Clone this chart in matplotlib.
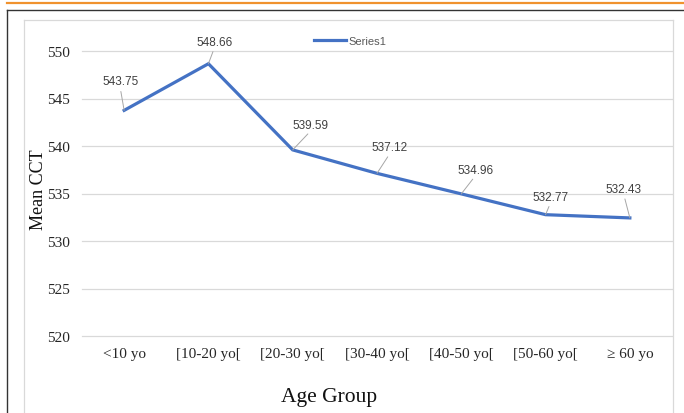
import matplotlib
matplotlib.use("Agg")
import matplotlib.pyplot as plt
from matplotlib.lines import Line2D

categories = ["<10 yo", "[10-20 yo[", "[20-30 yo[", "[30-40 yo[", "[40-50 yo[", "[50-60 yo[", "\u2265 60 yo"]
mean_cct = [543.75, 548.66, 539.59, 537.12, 534.96, 532.77, 532.43]
series_name = "Series1"
y_ticks = [520, 525, 530, 535, 540, 545, 550]
# label offsets (pixels) relative to the point
label_offsets = [(-4, 29), (6, 22), (18, 25), (13, 26), (14, 24), (5, 18), (-6, 29)]

W, H = 684, 414
fig = plt.figure(figsize=(W / 100, H / 100), dpi=100)
ax = fig.add_axes([82 / W, 1 - 337 / H, 590 / W, 285 / H])

x = list(range(len(categories)))
ax.plot(x, mean_cct, color="#4472C4", lw=2.3, solid_joinstyle="miter", label=series_name, zorder=3)

ax.set_xlim(-0.5, len(categories) - 0.5)
ax.set_ylim(520, 550)
ax.set_yticks(y_ticks)
ax.set_xticks(x)
ax.set_xticklabels(categories)
ax.grid(axis="y", color="#d9d9d9", lw=0.9)
for gl in ax.get_ygridlines():
    gl.set_clip_on(False)
ax.set_axisbelow(True)
for s in ax.spines.values():
    s.set_visible(False)
ax.tick_params(axis="both", length=0)
ax.tick_params(axis="y", pad=9)
ax.tick_params(axis="x", pad=8)
for lab in ax.get_xticklabels() + ax.get_yticklabels():
    lab.set_fontfamily("Liberation Serif")
    lab.set_fontsize(11)
    lab.set_color("#262626")

ax.set_xlabel("Age Group", fontfamily="Liberation Serif", fontsize=15.5, color="#111111")
ax.xaxis.label.set_va("center")
ax.xaxis.set_label_coords(0.419, -0.212)
ax.set_ylabel("Mean CCT", fontfamily="Liberation Serif", fontsize=13, color="#111111")
ax.yaxis.label.set_va("center")
ax.yaxis.set_label_coords(-0.073, 0.516)

for xi, yi, lab, (dx, dy) in zip(x, mean_cct, mean_cct, label_offsets):
    ax.annotate(f"{lab:.2f}", xy=(xi, yi), xytext=(dx, dy), textcoords="offset pixels",
                ha="center", va="center", fontsize=8.5, fontfamily="Liberation Sans",
                color="#404040",
                arrowprops=dict(arrowstyle="-", color="#a6a6a6", lw=0.7, relpos=(0.5, 0.0),
                                patchA=None, shrinkA=3, shrinkB=0))

leg = ax.legend(loc="center", bbox_to_anchor=(350 / W, 1 - 42 / H), bbox_transform=fig.transFigure,
                frameon=False, handlelength=2.9, handletextpad=0.2,
                prop={"family": "Liberation Sans", "size": 8})
for t in leg.get_texts():
    t.set_color("#595959")

# frame decorations
def fline(x0, y0, x1, y1, **kw):
    fig.add_artist(Line2D([x0 / W, x1 / W], [1 - y0 / H, 1 - y1 / H], transform=fig.transFigure, **kw))

fline(7, 4, W, 4, color="#F0922E", lw=1.6)
fline(7, 11, W, 11, color="#333333", lw=1.0)
fline(7, 11, 7, H, color="#333333", lw=1.0)
fline(24, 21, 673, 21, color="#d9d9d9", lw=0.9)
fline(24, 21, 24, H, color="#d9d9d9", lw=0.9)
fline(673, 21, 673, H, color="#d9d9d9", lw=0.9)

fig.savefig("out.png", dpi=100)
